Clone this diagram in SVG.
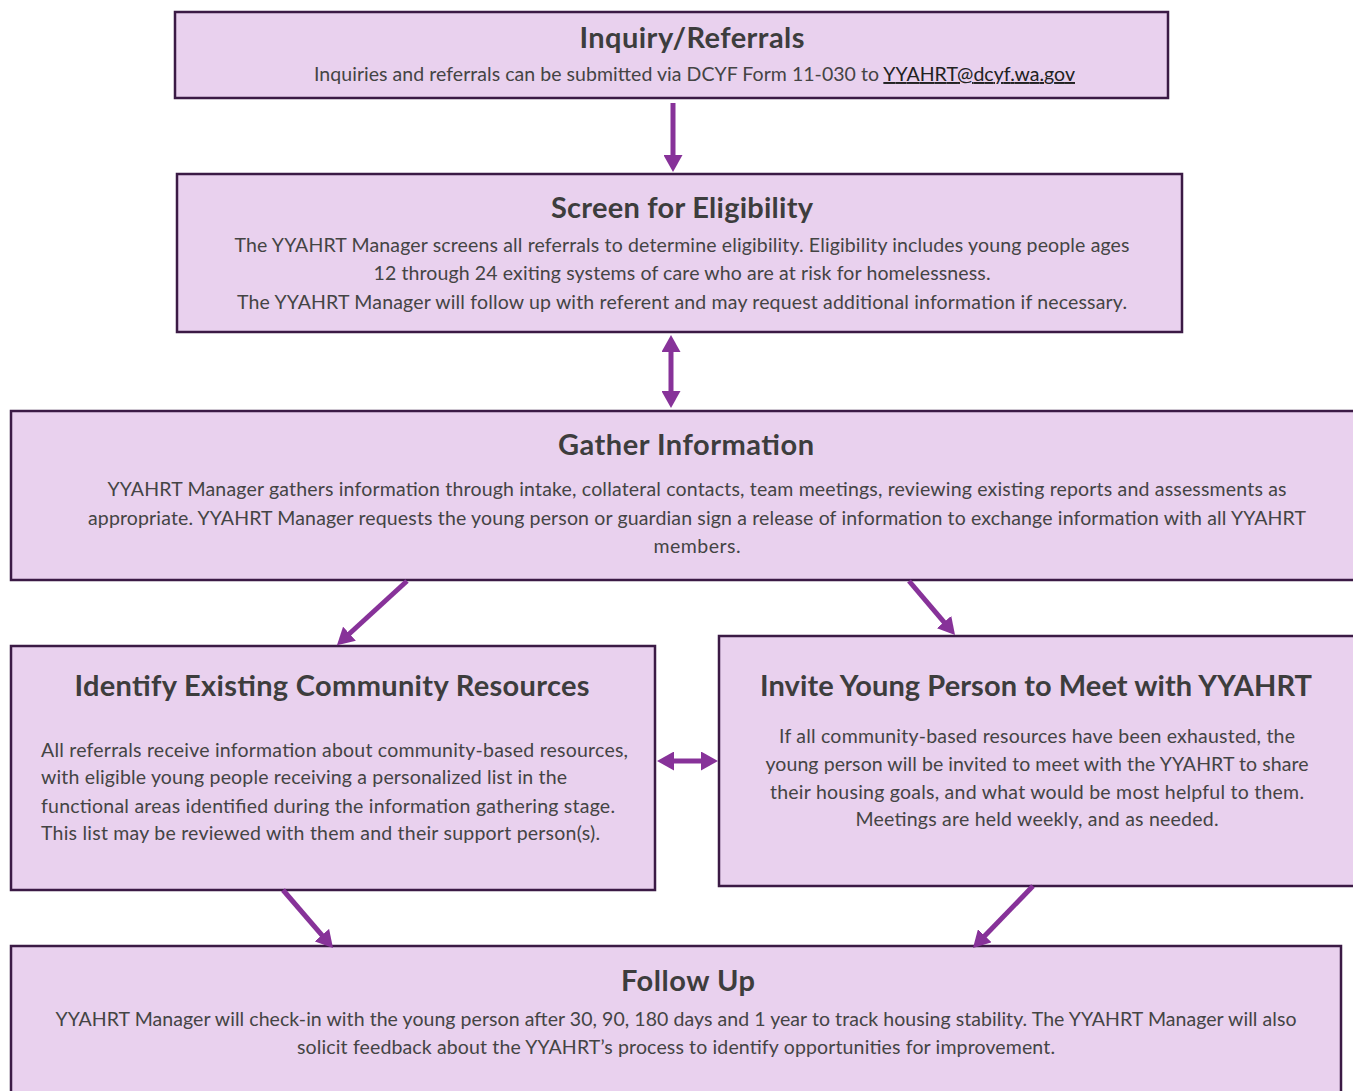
<svg xmlns="http://www.w3.org/2000/svg" width="1353" height="1091" viewBox="0 0 1353 1091">
<style>
.box{fill:#e9d1ee;stroke:#3b1a45;stroke-width:2.5}
.t{font-family:Lato,"Open Sans","Liberation Sans",sans-serif;font-weight:bold;font-size:29px;fill:#3d3d3d;text-anchor:middle}
.b{font-family:Lato,"Open Sans","Liberation Sans",sans-serif;font-size:19.5px;fill:#444}
.c{text-anchor:middle}
.conn{stroke:#873299;stroke-width:5;fill:none}
</style>
<defs>
<marker id="ah" viewBox="0 0 17 19" markerWidth="17" markerHeight="19" refX="2" refY="9.5" orient="auto-start-reverse" markerUnits="userSpaceOnUse">
<path d="M0,0 L17,9.5 L0,19 z" fill="#873299"/>
</marker>
</defs>
<rect width="1353" height="1091" fill="#fff"/>
<g id="inquiry">
<rect class="box" x="175" y="12" width="993" height="86"/>
<text class="t" x="692" y="48" textLength="225">Inquiry/Referrals</text>
<text class="b" x="314" y="81" textLength="761">Inquiries and referrals can be submitted via DCYF Form 11-030 to <tspan text-decoration="underline" fill="#222">YYAHRT@dcyf.wa.gov</tspan></text>
</g>
<g id="screen">
<rect class="box" x="177" y="174" width="1005" height="158"/>
<text class="t" x="682" y="218" textLength="262">Screen for Eligibility</text>
<text class="b c" x="682" y="252" textLength="895">The YYAHRT Manager screens all referrals to determine eligibility. Eligibility includes young people ages</text>
<text class="b c" x="682" y="280" textLength="617">12 through 24 exiting systems of care who are at risk for homelessness.</text>
<text class="b c" x="682" y="309" textLength="890">The YYAHRT Manager will follow up with referent and may request additional information if necessary.</text>
</g>
<g id="gather">
<rect class="box" x="11" y="411" width="1355" height="169"/>
<text class="t" x="686" y="455" textLength="256">Gather Information</text>
<text class="b c" x="697" y="496" textLength="1179">YYAHRT Manager gathers information through intake, collateral contacts, team meetings, reviewing existing reports and assessments as</text>
<text class="b c" x="697" y="525" textLength="1218">appropriate. YYAHRT Manager requests the young person or guardian sign a release of information to exchange information with all YYAHRT</text>
<text class="b c" x="697" y="553" textLength="87">members.</text>
</g>
<g id="identify">
<rect class="box" x="11" y="646" width="644" height="244"/>
<text class="t" x="332" y="696" textLength="515">Identify Existing Community Resources</text>
<text class="b" x="41" y="757" textLength="587">All referrals receive information about community-based resources,</text>
<text class="b" x="41" y="784" textLength="526">with eligible young people receiving a personalized list in the</text>
<text class="b" x="41" y="813" textLength="574">functional areas identified during the information gathering stage.</text>
<text class="b" x="41" y="840" textLength="559">This list may be reviewed with them and their support person(s).</text>
</g>
<g id="invite">
<rect class="box" x="719" y="636" width="645" height="250"/>
<text class="t" x="1036" y="696" textLength="552">Invite Young Person to Meet with YYAHRT</text>
<text class="b c" x="1037" y="743" textLength="516">If all community-based resources have been exhausted, the</text>
<text class="b c" x="1037" y="771" textLength="543">young person will be invited to meet with the YYAHRT to share</text>
<text class="b c" x="1037" y="799" textLength="534">their housing goals, and what would be most helpful to them.</text>
<text class="b c" x="1037" y="826" textLength="363">Meetings are held weekly, and as needed.</text>
</g>
<g id="followup">
<rect class="box" x="11" y="946" width="1330" height="160"/>
<text class="t" x="688" y="991" textLength="134">Follow Up</text>
<text class="b c" x="676" y="1026" textLength="1241">YYAHRT Manager will check-in with the young person after 30, 90, 180 days and 1 year to track housing stability. The YYAHRT Manager will also</text>
<text class="b c" x="676" y="1054" textLength="758">solicit feedback about the YYAHRT’s process to identify opportunities for improvement.</text>
</g>
<g id="connectors">
<line class="conn" x1="673" y1="103" x2="673" y2="157" marker-end="url(#ah)"/>
<line class="conn" x1="671" y1="350" x2="671" y2="393" marker-start="url(#ah)" marker-end="url(#ah)"/>
<line class="conn" x1="407" y1="581" x2="348" y2="635" marker-end="url(#ah)"/>
<line class="conn" x1="909" y1="581" x2="945.3" y2="623.6" marker-end="url(#ah)"/>
<line class="conn" x1="672" y1="761" x2="703" y2="761" marker-start="url(#ah)" marker-end="url(#ah)"/>
<line class="conn" x1="283" y1="890" x2="323.2" y2="936.6" marker-end="url(#ah)"/>
<line class="conn" x1="1033" y1="886" x2="983.4" y2="937.2" marker-end="url(#ah)"/>
</g>
</svg>
